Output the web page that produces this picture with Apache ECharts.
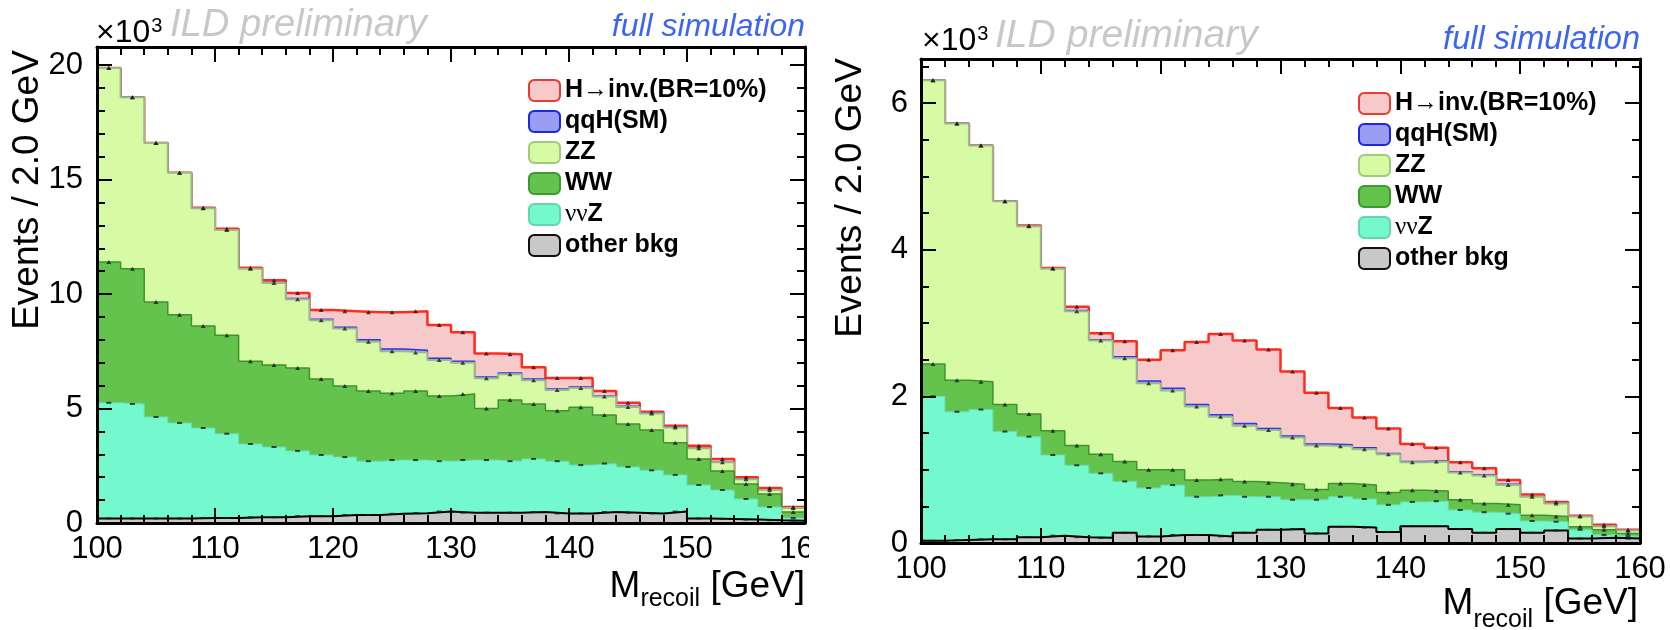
<!DOCTYPE html>
<html>
<head>
<meta charset="utf-8">
<title>M_recoil</title>
<script src="https://cdn.jsdelivr.net/npm/echarts@6/dist/echarts.min.js"></script>
<style>
html, body { margin: 0; padding: 0; background: #fff; }
#left { position: absolute; left: 0; top: 0; width: 809px; height: 630px; }
#right { position: absolute; left: 809px; top: 0; width: 861px; height: 630px; }
</style>
</head>
<body>
<div id="left"></div>
<div id="right"></div>
<script>
// bin edges (2 GeV bins)
var binEdges = [100, 102, 104, 106, 108, 110, 112, 114, 116, 118, 120, 122, 124, 126, 128, 130,
    132, 134, 136, 138, 140, 142, 144, 146, 148, 150, 152, 154, 156, 158, 160];
var xTickLabels = [100, 110, 120, 130, 140, 150, 160];
var yTickLabelsL = [0, 5, 10, 15, 20];
var yTickLabelsR = [0, 2, 4, 6];
var seriesNames = ['H→inv.(BR=10%)', 'qqH(SM)', 'ZZ', 'WW', 'ννZ', 'other bkg'];

// left panel, events x10^3 per bin
var otherL = [0.2, 0.2, 0.2, 0.2, 0.22, 0.22, 0.25, 0.25, 0.3, 0.3, 0.35, 0.35, 0.4, 0.43, 0.5, 0.45, 0.45, 0.45, 0.48, 0.42, 0.42, 0.48, 0.45, 0.42, 0.5, 0.2, 0.18, 0.15, 0.12, 0.1];
var nnzL = [5.05, 5.0, 4.43, 4.17, 3.93, 3.68, 3.2, 3.07, 2.85, 2.67, 2.53, 2.35, 2.35, 2.32, 2.2, 2.3, 2.3, 2.25, 2.32, 2.28, 2.11, 2.12, 2.0, 1.88, 1.6, 1.46, 1.26, 0.9, 0.58, 0.12];
var wwL = [6.15, 5.9, 5.02, 4.73, 4.45, 4.3, 3.62, 3.58, 3.62, 3.32, 3.1, 3.07, 2.92, 3.02, 2.85, 2.88, 2.25, 2.67, 2.4, 2.2, 2.53, 2.12, 1.87, 1.76, 1.4, 1.14, 0.83, 0.65, 0.57, 0.26];
var zzL = [8.47, 7.5, 6.95, 6.2, 5.15, 4.6, 4.03, 3.58, 3.0, 2.56, 2.51, 2.15, 1.83, 1.68, 1.57, 1.37, 1.32, 1.13, 1.04, 0.91, 0.84, 0.8, 0.75, 0.72, 0.67, 0.47, 0.38, 0.21, 0.17, 0.17];
var qqhL = [0, 0, 0, 0, 0, 0, 0, 0.02, 0.03, 0.05, 0.06, 0.08, 0.1, 0.1, 0.08, 0.07, 0.06, 0.05, 0.05, 0.04, 0.04, 0.03, 0.03, 0.02, 0.02, 0.01, 0.01, 0.01, 0, 0];
var hinvL = [0, 0, 0, 0, 0.02, 0.05, 0.05, 0.1, 0.25, 0.4, 0.7, 1.2, 1.6, 1.7, 1.45, 1.26, 1.02, 0.82, 0.51, 0.48, 0.39, 0.22, 0.15, 0.06, 0.06, 0.09, 0.14, 0.08, 0.09, 0.05];

// right panel
var otherR = [0.03, 0.04, 0.05, 0.05, 0.08, 0.1, 0.08, 0.07, 0.14, 0.09, 0.11, 0.11, 0.09, 0.14, 0.18, 0.19, 0.13, 0.22, 0.21, 0.15, 0.23, 0.23, 0.19, 0.14, 0.19, 0.14, 0.17, 0.06, 0.07, 0.06];
var nnzR = [1.97, 1.75, 1.77, 1.47, 1.37, 1.1, 0.98, 0.88, 0.7, 0.66, 0.68, 0.52, 0.56, 0.49, 0.45, 0.4, 0.46, 0.41, 0.39, 0.37, 0.33, 0.34, 0.26, 0.28, 0.21, 0.16, 0.12, 0.12, 0.04, 0.03];
var wwR = [0.44, 0.43, 0.38, 0.37, 0.31, 0.33, 0.27, 0.26, 0.27, 0.25, 0.21, 0.23, 0.22, 0.21, 0.19, 0.21, 0.14, 0.18, 0.19, 0.17, 0.16, 0.14, 0.14, 0.12, 0.12, 0.08, 0.07, 0.04, 0.07, 0.04];
var zzR = [3.87, 3.5, 3.22, 2.77, 2.56, 2.21, 1.83, 1.55, 1.41, 1.18, 1.08, 1.0, 0.85, 0.76, 0.72, 0.64, 0.6, 0.51, 0.49, 0.52, 0.38, 0.4, 0.37, 0.38, 0.27, 0.25, 0.18, 0.14, 0.05, 0.04];
var qqhR = [0, 0, 0, 0, 0, 0, 0.01, 0.01, 0.02, 0.03, 0.03, 0.03, 0.03, 0.03, 0.02, 0.02, 0.02, 0.02, 0.02, 0.01, 0.01, 0.01, 0.01, 0.01, 0.01, 0, 0, 0, 0, 0];
var hinvR = [0, 0, 0, 0, 0.01, 0.01, 0.05, 0.09, 0.21, 0.29, 0.52, 0.85, 1.1, 1.13, 1.08, 0.88, 0.7, 0.5, 0.41, 0.34, 0.24, 0.18, 0.13, 0.09, 0.06, 0.03, 0.02, 0.01, 0.02, 0.01];

var FONT = "'Liberation Sans', Arial, Helvetica, sans-serif";

// stack order bottom -> top
var styles = [
    { name: 'other bkg', fill: '#c8c8c8', line: '#000000', width: 2, border: '#111111', mark: 'rect' },
    { name: 'ννZ', fill: '#74f8cd', line: '#66dcb4', width: 1, border: '#63d6ac', mark: 'rect' },
    { name: 'WW', fill: '#64c34d', line: '#3f932f', width: 1.5, border: '#3c9a2e', mark: 'triangle' },
    { name: 'ZZ', fill: '#d7fba4', line: '#9db98a', width: 2, border: '#9fcb7c', mark: 'triangle' },
    { name: 'qqH(SM)', fill: '#9a9df2', line: '#2a35ee', width: 1.5, border: '#1c26e8', mark: null },
    { name: 'H→inv.(BR=10%)', fill: '#f6c9cb', line: '#ff2b1c', width: 2.5, border: '#ec3a2e', mark: 'triangle' }
];

function stepData(vals) {
    var d = vals.map(function (v, i) { return [binEdges[i], v]; });
    d.push([binEdges[vals.length], vals[vals.length - 1]]);
    return d;
}

var measureCtx = document.createElement('canvas').getContext('2d');
function textWidth(str, font) {
    measureCtx.font = font;
    return measureCtx.measureText(str).width;
}
// font size that gives a wanted text width
function fitSize(str, style, family, width) {
    return Math.round(width / textWidth(str, style + ' 100px ' + family) * 1000) / 10;
}

function txt(str, x, y, size, color, opts) {
    opts = opts || {};
    var font = (opts.italic ? 'italic ' : '') + size + 'px ' + (opts.family || FONT);
    return {
        type: 'text', x: x, y: y, rotation: opts.rotation || 0, z: 50, silent: true,
        style: {
            text: str, font: font, fill: color,
            textAlign: opts.align || 'left', textVerticalAlign: 'middle',
            align: opts.align || 'left', verticalAlign: 'middle'
        }
    };
}

function xTitle(right, cy, cySub) {
    var fM = '37px ' + FONT, fS = '25px ' + FONT;
    var wM = textWidth('M', fM), wS = textWidth('recoil', fS), wG = textWidth(' [GeV]', fM);
    var x0 = right - (wM + wS + wG);
    return [
        txt('M', x0, cy, 37, '#000'),
        txt('recoil', x0 + wM, cySub, 25, '#000'),
        txt(' [GeV]', x0 + wM + wS, cy, 37, '#000')
    ];
}

function headTexts(x10, cyTen, cyExp, ildX, ildW, cyIld, simRight, simW, cySim) {
    var wTen = textWidth('×10', '32px ' + FONT);
    var ildSize = fitSize('ILD preliminary', 'italic', FONT, ildW);
    var simSize = fitSize('full simulation', 'italic', FONT, simW);
    return [
        txt('×10', x10, cyTen, 32, '#000'),
        txt('3', x10 + wTen + 1, cyExp, 20, '#000'),
        txt('ILD preliminary', ildX, cyIld, ildSize, '#c8c8c8', { italic: true }),
        txt('full simulation', simRight, cySim, simSize, '#3c66f2', { italic: true, align: 'right' })
    ];
}

function xAxisDef(pos, labels) {
    return {
        type: 'value', position: pos, min: 100, max: 160, interval: 10, z: 20,
        axisLine: { show: true, onZero: false, lineStyle: { color: '#000', width: 3 } },
        axisTick: { show: true, inside: true, length: 15, lineStyle: { color: '#000', width: 2 } },
        minorTick: { show: true, splitNumber: 5, length: 8, lineStyle: { color: '#000', width: 2 } },
        splitLine: { show: false }, minorSplitLine: { show: false },
        axisLabel: {
            show: labels, color: '#000', fontSize: 31, fontFamily: FONT, margin: 11,
            showMinLabel: true, showMaxLabel: true, hideOverlap: false,
            formatter: function (v) { return xTickLabels.indexOf(Math.round(v)) >= 0 && Math.abs(v - Math.round(v)) < 1e-6 ? String(Math.round(v)) : ''; }
        }
    };
}

function yAxisDef(pos, yMax, interval, tickLen, major, labels, margin) {
    return {
        type: 'value', position: pos, min: 0, max: yMax, interval: interval, z: 20,
        axisLine: { show: major, onZero: false, lineStyle: { color: '#000', width: 3 } },
        axisTick: { show: true, inside: true, length: tickLen, lineStyle: { color: '#000', width: 2 } },
        splitLine: { show: false },
        axisLabel: {
            show: !!labels, color: '#000', fontSize: 31, fontFamily: FONT, margin: margin || 8,
            showMaxLabel: false, hideOverlap: false,
            formatter: function (v) {
                var r = Math.round(v);
                return labels && labels.indexOf(r) >= 0 && Math.abs(v - r) < 1e-6 ? String(r) : '';
            }
        }
    };
}

function buildOption(p) {
    var comps = [p.other, p.nnz, p.ww, p.zz, p.qqh, p.hinv];
    var series = [];
    // running sum = top edge of each layer (ROOT THStack style)
    var cum = comps[0].map(function () { return 0; });
    comps.forEach(function (vals, k) {
        var st = styles[k];
        cum = cum.map(function (c, i) { return c + vals[i]; });
        var top = cum.slice();
        series.push({
            name: st.name, type: 'line', step: 'end',
            xAxisIndex: 0, yAxisIndex: 0,
            symbol: 'none', showSymbol: false, silent: true, z: 9 - k,
            lineStyle: { color: st.line, width: st.width },
            itemStyle: { color: st.fill },
            areaStyle: { color: st.fill, opacity: 1, origin: 'start' },
            data: stepData(top)
        });
        if (st.mark) {
            series.push({
                type: 'scatter', xAxisIndex: 0, yAxisIndex: 0, silent: true, z: 12,
                symbol: st.mark, symbolSize: st.mark === 'rect' ? [5, 2] : [5, 4],
                itemStyle: { color: '#1a1a1a' },
                data: top.map(function (v, i) { return [binEdges[i] + 1, v]; })
            });
        }
    });

    var legendData = seriesNames.map(function (n) {
        var st = styles.filter(function (s) { return s.name === n; })[0];
        return { name: n, itemStyle: { color: st.fill, borderColor: st.border, borderWidth: 2 } };
    });

    return {
        animation: false,
        backgroundColor: '#fff',
        grid: [{ left: p.grid[0], top: p.grid[1], right: p.grid[2], bottom: p.grid[3], containLabel: false, outerBoundsMode: 'none' }],
        xAxis: [xAxisDef('bottom', true), xAxisDef('top', false)],
        yAxis: [
            yAxisDef('left', p.yMax, p.yMajor, 15, true, p.yLabels, p.labelMargin),
            yAxisDef('left', p.yMax, p.yMinor, 8, false, null),
            yAxisDef('right', p.yMax, p.yMajor, 15, true, null),
            yAxisDef('right', p.yMax, p.yMinor, 8, false, null)
        ],
        legend: {
            data: legendData, orient: 'vertical', left: p.legend[0], top: p.legend[1], padding: 0,
            icon: 'roundRect', itemWidth: 31, itemHeight: 21, itemGap: 6, selectedMode: false,
            textStyle: {
                color: '#000', fontSize: 25, fontWeight: 'bold', fontFamily: FONT, lineHeight: 20,
                rich: {
                    g: { fontFamily: "'Liberation Serif', serif", fontWeight: 'normal', fontSize: 25, lineHeight: 20, color: '#000' },
                    b: { fontFamily: FONT, fontWeight: 'bold', fontSize: 25, lineHeight: 20, color: '#000' }
                }
            },
            formatter: function (name) { return name === 'ννZ' ? '{g|νν}{b|Z}' : name; }
        },
        graphic: p.texts,
        series: series
    };
}

// 左图
var chartL = echarts.init(document.getElementById('left'));
chartL.setOption(buildOption({
    grid: [97, 47, 4, 107], yMax: 20.79, yMajor: 5, yMinor: 1, yLabels: yTickLabelsL, labelMargin: 14,
    legend: [528, 78],
    other: otherL, nnz: nnzL, ww: wwL, zz: zzL, qqh: qqhL, hinv: hinvL,
    texts: headTexts(96, 33, 26, 170, 257, 25, 805, 193, 27).concat(
        [txt('Events / 2.0 GeV', 28, 190, 37, '#000', { rotation: Math.PI / 2, align: 'center' })],
        xTitle(805, 587, 599))
}));

// 右图
var chartR = echarts.init(document.getElementById('right'));
chartR.setOption(buildOption({
    grid: [112, 59, 30, 87], yMax: 6.6, yMajor: 2, yMinor: 0.5, yLabels: yTickLabelsR, labelMargin: 13,
    legend: [549, 91],
    other: otherR, nnz: nnzR, ww: wwR, zz: zzR, qqh: qqhR, hinv: hinvR,
    texts: headTexts(113, 41, 34, 186, 263, 36, 831, 197, 40).concat(
        [txt('Events / 2.0 GeV', 42, 198, 37, '#000', { rotation: Math.PI / 2, align: 'center' })],
        xTitle(829, 604, 620))
}));
</script>
</body>
</html>
